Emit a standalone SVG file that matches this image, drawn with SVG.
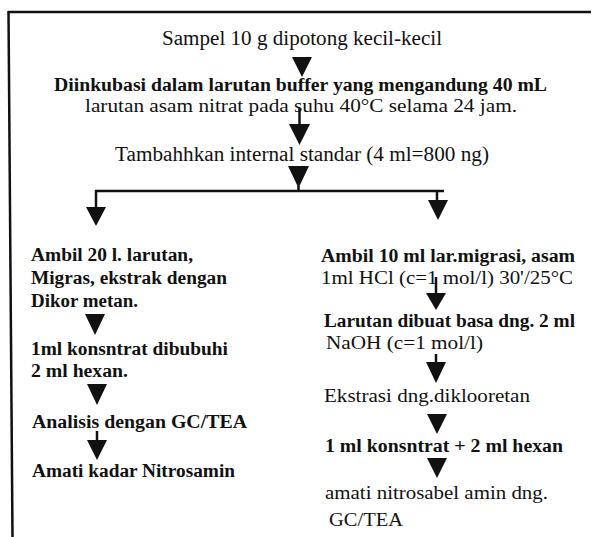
<svg xmlns="http://www.w3.org/2000/svg" width="592" height="537" viewBox="0 0 592 537">
<style>
text{font-family:"Liberation Serif","Times New Roman",serif;font-size:20px;fill:#111}
.b{font-weight:bold}
.m{font-size:18.5px}
.s{font-size:18.5px}
.ln{stroke:#111;stroke-width:2.5;fill:none}
.tri{fill:#111}
</style>
<rect width="592" height="537" fill="#fff"/>
<g id="frame">
<line class="ln" x1="8" y1="12" x2="591" y2="12" stroke-width="2"/>
<line class="ln" x1="8.5" y1="11" x2="12.5" y2="537" stroke-width="3"/>
</g>
<g id="connectors">
<polygon class="tri" points="292,57 312,57 302,77"/>
<line class="ln" x1="299.5" y1="108" x2="299.5" y2="125"/>
<polygon class="tri" points="289,124 310,124 299.5,145"/>
<polygon class="tri" points="288,166 309,166 298.5,188"/>
<line class="ln" x1="298.5" y1="186" x2="298.5" y2="191"/>
<line class="ln" x1="95" y1="191" x2="444" y2="191"/>
<line class="ln" x1="96" y1="190" x2="96" y2="208"/>
<polygon class="tri" points="86,207 106,207 96,226"/>
<line class="ln" x1="437" y1="190" x2="437" y2="201"/>
<polygon class="tri" points="428,200 448,200 438,220"/>
<polygon class="tri" points="85,314 105,314 95,335"/>
<polygon class="tri" points="87,384 107,384 97,405"/>
<line class="ln" x1="97" y1="431" x2="97" y2="441"/>
<polygon class="tri" points="87,440 107,440 97,460"/>
<line class="ln" x1="436" y1="277" x2="436" y2="294"/>
<polygon class="tri" points="426,293 446,293 436,310"/>
<line class="ln" x1="436" y1="354" x2="436" y2="363"/>
<polygon class="tri" points="426,362 446,362 436,383"/>
<polygon class="tri" points="427,414 447,414 437,434"/>
<polygon class="tri" points="427,458 447,458 437,478"/>
</g>
<g id="n1"><text x="162" y="44.5" textLength="280" lengthAdjust="spacingAndGlyphs">Sampel 10 g dipotong kecil-kecil</text></g>
<g id="n2">
<text class="b m" x="54" y="91" textLength="493" lengthAdjust="spacingAndGlyphs">Diinkubasi dalam larutan buffer yang mengandung 40 mL</text>
<text class="m" x="85" y="111.5" textLength="432" lengthAdjust="spacingAndGlyphs">larutan asam  nitrat pada suhu 40°C selama 24 jam.</text>
</g>
<g id="n3"><text x="115" y="161" textLength="374" lengthAdjust="spacingAndGlyphs">Tambahhkan internal standar (4 ml=800 ng)</text></g>
<g id="left1">
<text class="b s" x="31" y="261" textLength="162" lengthAdjust="spacingAndGlyphs">Ambil 20 l. larutan,</text>
<text class="b s" x="31" y="284" textLength="196" lengthAdjust="spacingAndGlyphs">Migras, ekstrak dengan</text>
<text class="b s" x="31" y="307" textLength="107" lengthAdjust="spacingAndGlyphs">Dikor metan.</text>
</g>
<g id="left2">
<text class="b s" x="31" y="355" textLength="197" lengthAdjust="spacingAndGlyphs">1ml konsntrat dibubuhi</text>
<text class="b s" x="31" y="377" textLength="97" lengthAdjust="spacingAndGlyphs">2 ml hexan.</text>
</g>
<g id="left3"><text class="b s" x="32" y="428" textLength="215" lengthAdjust="spacingAndGlyphs">Analisis dengan GC/TEA</text></g>
<g id="left4"><text class="b s" x="32" y="476.5" textLength="203" lengthAdjust="spacingAndGlyphs">Amati kadar Nitrosamin</text></g>
<g id="right1">
<text class="b s" x="321" y="261.5" textLength="254" lengthAdjust="spacingAndGlyphs">Ambil 10 ml lar.migrasi, asam</text>
<text class="s" x="321" y="283.5" textLength="252" lengthAdjust="spacingAndGlyphs">1ml HCl (c=1 mol/l) 30'/25°C</text>
</g>
<g id="right2">
<text class="b s" x="324" y="327" textLength="251" lengthAdjust="spacingAndGlyphs">Larutan dibuat basa dng. 2 ml</text>
<text class="s" x="326" y="348.5" textLength="157" lengthAdjust="spacingAndGlyphs">NaOH (c=1 mol/l)</text>
</g>
<g id="right3"><text class="s" x="324" y="401.5" textLength="206" lengthAdjust="spacingAndGlyphs">Ekstrasi dng.diklooretan</text></g>
<g id="right4"><text class="b s" x="325" y="451.5" textLength="238" lengthAdjust="spacingAndGlyphs">1 ml konsntrat + 2 ml hexan</text></g>
<g id="right5">
<text class="s" x="325" y="498.5" textLength="223" lengthAdjust="spacingAndGlyphs">amati nitrosabel amin dng.</text>
<text class="s" x="329" y="525.5" textLength="74" lengthAdjust="spacingAndGlyphs">GC/TEA</text>
</g>
</svg>
